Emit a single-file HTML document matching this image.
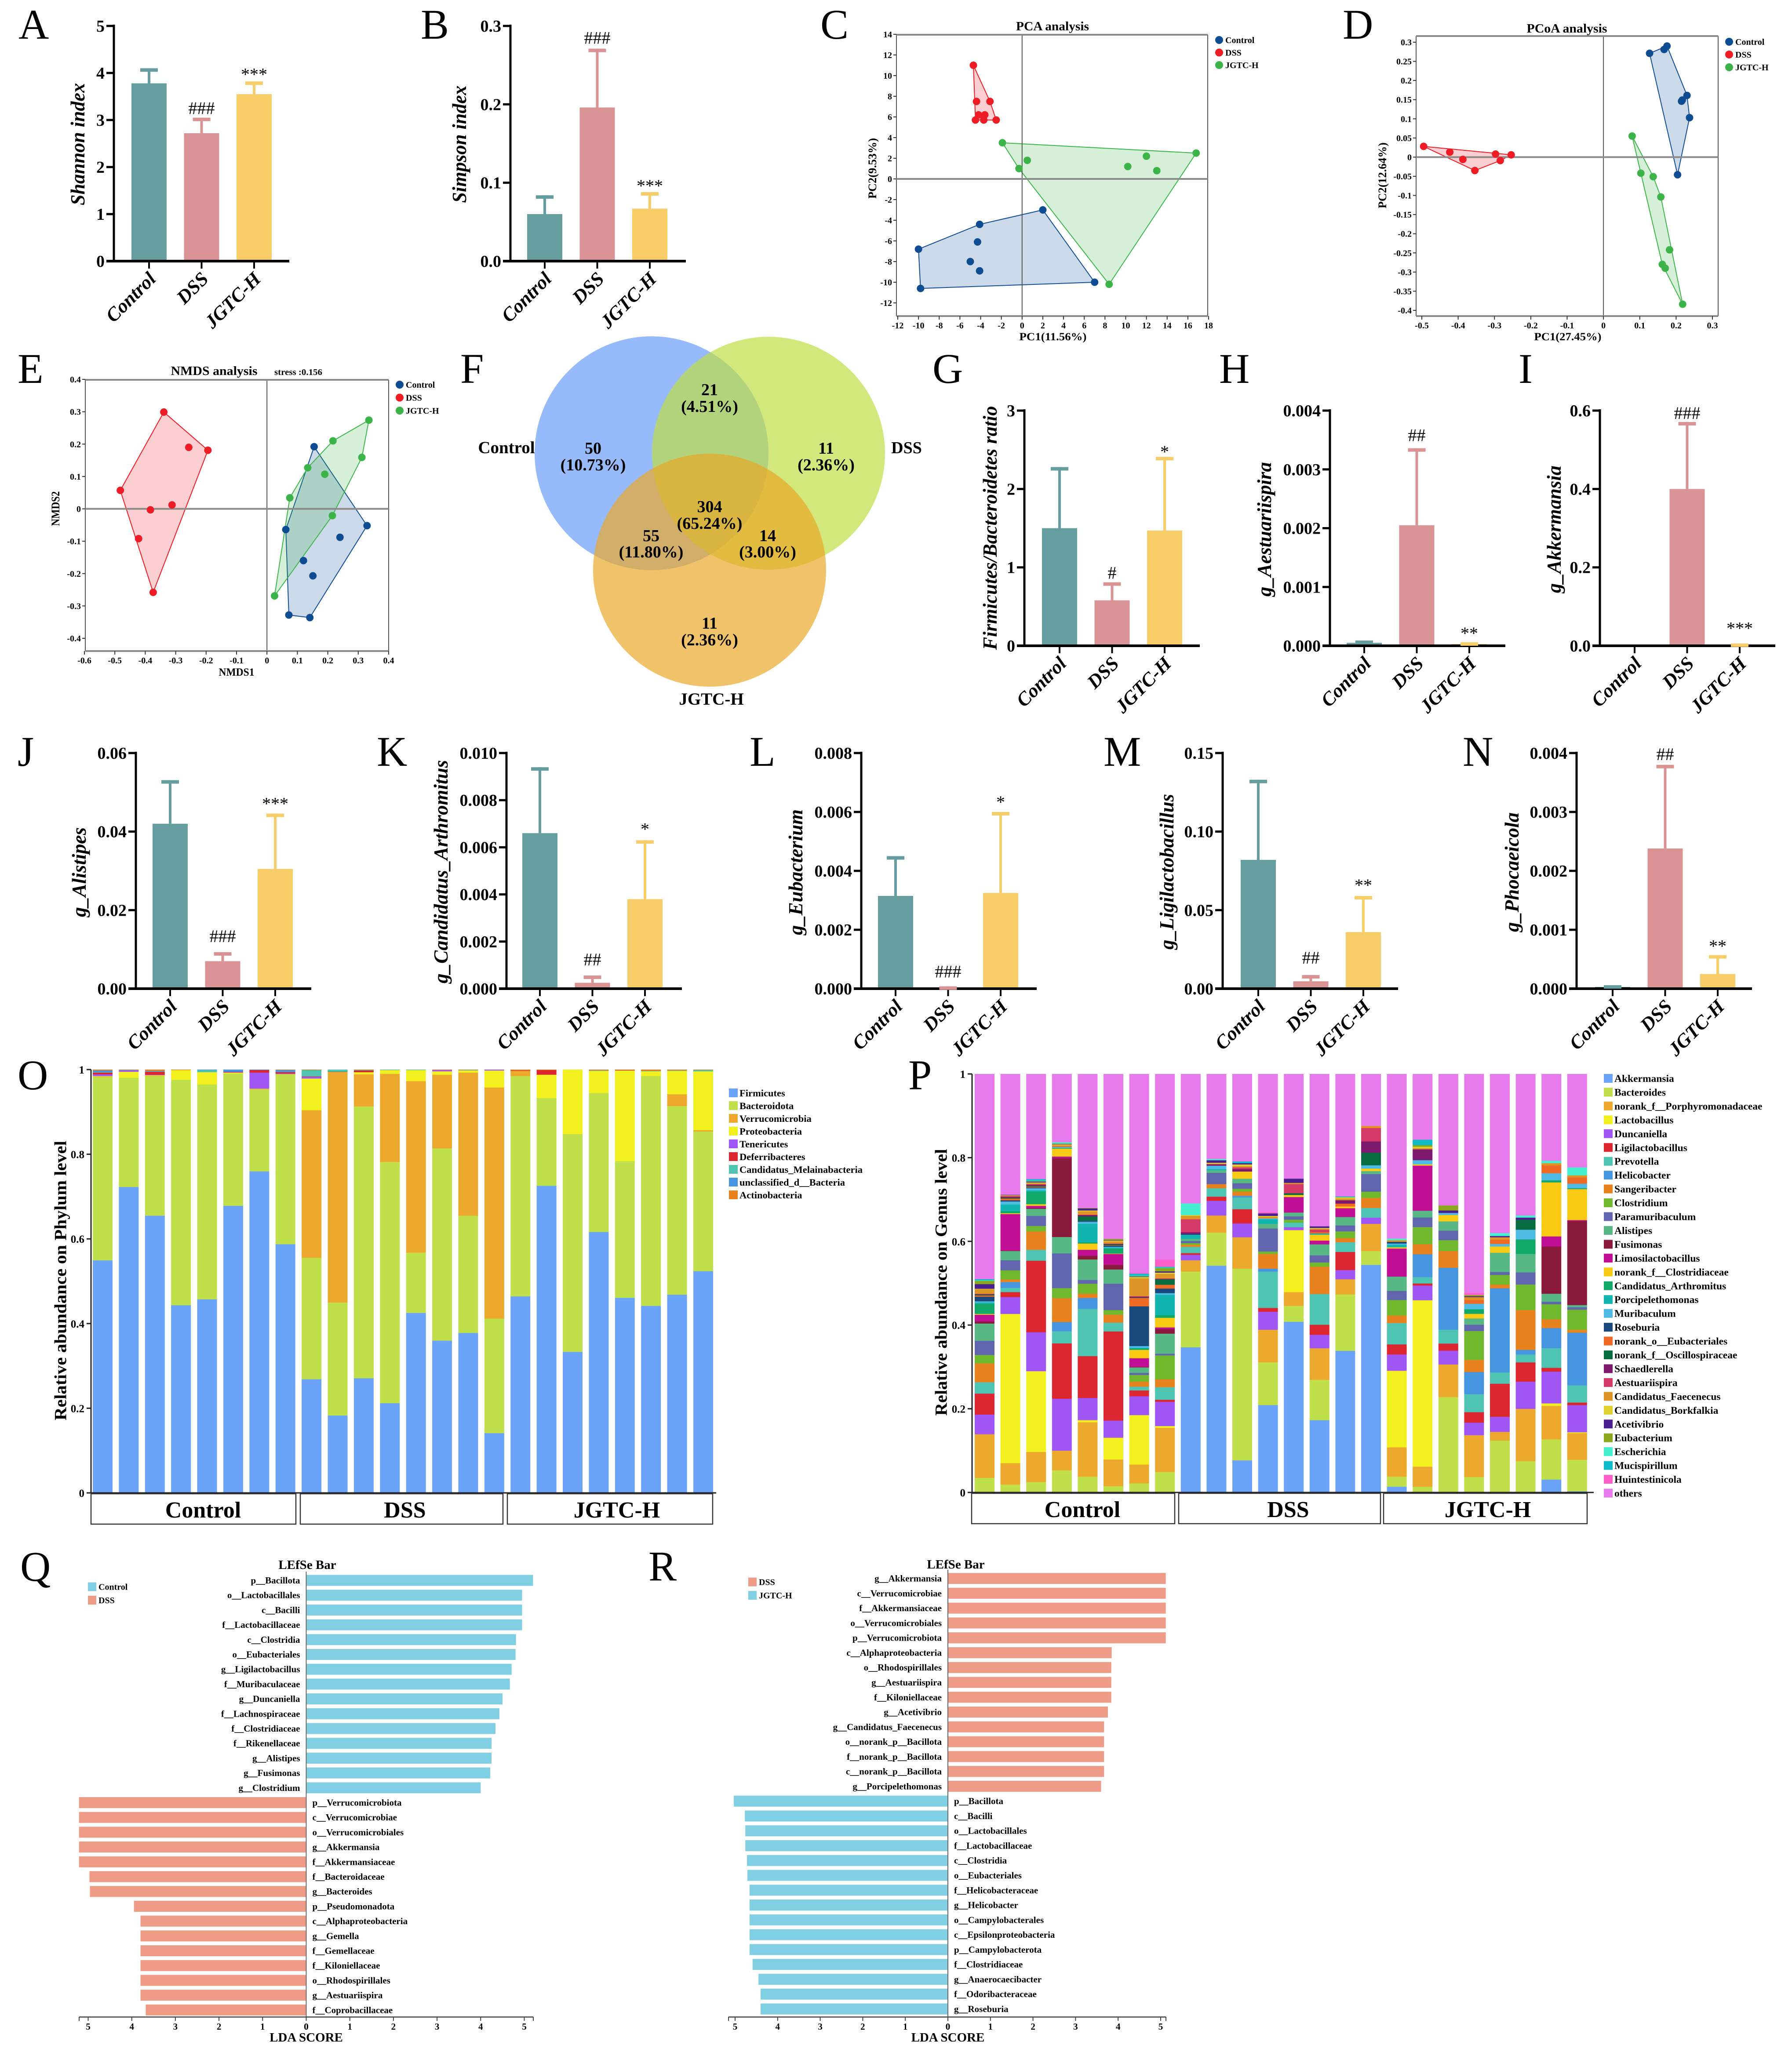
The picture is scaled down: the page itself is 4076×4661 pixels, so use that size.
<!DOCTYPE html>
<html lang="en">
<head>
<meta charset="utf-8">
<title>Gut microbiota analysis figure</title>
<style>
html,body{margin:0;padding:0;background:#fff;}
svg{display:block;}
text{font-family:"Liberation Serif","Times New Roman",serif;fill:#000;}
.b{font-weight:bold;}
.i{font-style:italic;}
</style>
</head>
<body>
<svg id="figure" xmlns="http://www.w3.org/2000/svg" width="4076" height="4661" viewBox="0 0 4076 4661">
<rect x="0" y="0" width="4076" height="4661" fill="#fff"/>
<g font-size="96">
<text x="42" y="88">A</text>
<text x="957" y="88">B</text>
<text x="1866" y="88">C</text>
<text x="3054" y="88">D</text>
<text x="40" y="871">E</text>
<text x="1047" y="871">F</text>
<text x="2121" y="871">G</text>
<text x="2773" y="871">H</text>
<text x="3454" y="871">I</text>
<text x="40" y="1742">J</text>
<text x="857" y="1742">K</text>
<text x="1705" y="1742">L</text>
<text x="2510" y="1742">M</text>
<text x="3327" y="1742">N</text>
<text x="40" y="2478">O</text>
<text x="2066" y="2478">P</text>
<text x="46" y="3596">Q</text>
<text x="1475" y="3595">R</text>
</g>

<g>
<circle cx="1482" cy="1031" r="266" fill="#5f97f7" fill-opacity="0.65"/>
<circle cx="1748" cy="1031" r="265" fill="#bede41" fill-opacity="0.69"/>
<circle cx="1614" cy="1297" r="265" fill="#e9a727" fill-opacity="0.69"/>
<g class="b" font-size="38" text-anchor="middle">
<text x="1349" y="1032">50</text>
<text x="1349" y="1070">(10.73%)</text>
<text x="1614" y="899">21</text>
<text x="1614" y="937">(4.51%)</text>
<text x="1879" y="1032">11</text>
<text x="1879" y="1070">(2.36%)</text>
<text x="1614" y="1165">304</text>
<text x="1614" y="1203">(65.24%)</text>
<text x="1481" y="1231">55</text>
<text x="1481" y="1268">(11.80%)</text>
<text x="1746" y="1231">14</text>
<text x="1746" y="1268">(3.00%)</text>
<text x="1614" y="1430">11</text>
<text x="1614" y="1468">(2.36%)</text>
<text x="1152" y="1031" font-size="39">Control</text>
<text x="2062" y="1031" font-size="38">DSS</text>
<text x="1618" y="1603" font-size="39">JGTC-H</text>
</g>
</g>

<g id="panel-a"></g>
<g id="panel-b"></g>
<g id="panel-c"></g>
<g id="panel-d"></g>
<g id="panel-e"></g>
<g id="panel-g"></g>
<g id="panel-h"></g>
<g id="panel-i"></g>
<g id="panel-j"></g>
<g id="panel-k"></g>
<g id="panel-l"></g>
<g id="panel-m"></g>
<g id="panel-n"></g>
<g id="panel-o"></g>
<g id="panel-p"></g>
<g id="panel-q"></g>
<g id="panel-r"></g>
</svg>

<script>
const groupNames = ['Control', 'DSS', 'JGTC-H'];
const groupBarColors = ['#669d9e', '#da9394', '#f7cd6a'];
const groupPointColors = ['#0f4d92', '#ee1c25', '#3cb44a'];

/* ---- bar panels ---- */
const shannonMeans = [3.78, 2.72, 3.55];
const shannonTops = [4.1, 3.05, 3.82];
const shannonSig = ['', '###', '***'];
const shannonTicks = ['0', '1', '2', '3', '4', '5'];

const simpsonMeans = [0.06, 0.196, 0.067];
const simpsonTops = [0.084, 0.271, 0.088];
const simpsonSig = ['', '###', '***'];
const simpsonTicks = ['0.0', '0.1', '0.2', '0.3'];

const fbRatioMeans = [1.5, 0.58, 1.47];
const fbRatioTops = [2.28, 0.81, 2.41];
const fbRatioSig = ['', '#', '*'];
const fbRatioTicks = ['0', '1', '2', '3'];

const aestuariispiraMeans = [0.00005, 0.00205, 0.00003];
const aestuariispiraTops = [0.00009, 0.00336, 0.00006];
const aestuariispiraSig = ['', '##', '**'];
const aestuariispiraTicks = ['0.000', '0.001', '0.002', '0.003', '0.004'];

const akkermansiaMeans = [0, 0.4, 0.003];
const akkermansiaTops = [0, 0.571, 0.006];
const akkermansiaSig = ['', '###', '***'];
const akkermansiaTicks = ['0.0', '0.2', '0.4', '0.6'];

const alistipesMeans = [0.042, 0.007, 0.0305];
const alistipesTops = [0.0531, 0.0093, 0.0446];
const alistipesSig = ['', '###', '***'];
const alistipesTicks = ['0.00', '0.02', '0.04', '0.06'];

const arthromitusMeans = [0.0066, 0.00025, 0.0038];
const arthromitusTops = [0.0094, 0.00056, 0.0063];
const arthromitusSig = ['', '##', '*'];
const arthromitusTicks = ['0.000', '0.002', '0.004', '0.006', '0.008', '0.010'];

const eubacteriumMeans = [0.00315, 0.00003, 0.00325];
const eubacteriumTops = [0.0045, 0.00008, 0.006];
const eubacteriumSig = ['', '###', '*'];
const eubacteriumTicks = ['0.000', '0.002', '0.004', '0.006', '0.008'];

const ligilactoMeans = [0.082, 0.0047, 0.036];
const ligilactoTops = [0.133, 0.0087, 0.059];
const ligilactoSig = ['', '##', '**'];
const ligilactoTicks = ['0.00', '0.05', '0.10', '0.15'];

const phocaeicolaMeans = [0.00003, 0.00238, 0.00025];
const phocaeicolaTops = [0.00006, 0.0038, 0.00057];
const phocaeicolaSig = ['', '##', '**'];
const phocaeicolaTicks = ['0.000', '0.001', '0.002', '0.003', '0.004'];

/* ---- ordination panels ---- */
const pcaControlX = [-10, -9.8, -4.1, -4.3, -5, -4.1, 2, 7];
const pcaControlY = [-6.8, -10.6, -4.4, -6.1, -8, -8.9, -3, -10];
const pcaDssX = [-4.7, -4.4, -3.1, -4.2, -3.6, -4.5, -3.7, -2.5];
const pcaDssY = [11, 7.5, 7.5, 6.2, 6.2, 5.7, 5.7, 5.7];
const pcaJgtcX = [-1.9, 0.5, -0.3, 10.2, 12, 13, 16.8, 8.4];
const pcaJgtcY = [3.5, 1.8, 1, 1.2, 2.2, 0.8, 2.5, -10.2];
const pcaXTicks = [-12, -10, -8, -6, -4, -2, 0, 2, 4, 6, 8, 10, 12, 14, 16, 18];
const pcaYTicks = [14, 12, 10, 8, 6, 4, 2, 0, -2, -4, -6, -8, -10, -12];

const pcoaControlX = [0.127, 0.167, 0.175, 0.23, 0.217, 0.215, 0.237, 0.204];
const pcoaControlY = [0.271, 0.281, 0.29, 0.161, 0.149, 0.146, 0.103, -0.046];
const pcoaDssX = [-0.495, -0.423, -0.387, -0.354, -0.297, -0.284, -0.254];
const pcoaDssY = [0.028, 0.013, -0.006, -0.035, 0.008, -0.009, 0.006];
const pcoaJgtcX = [0.079, 0.103, 0.137, 0.158, 0.182, 0.162, 0.17, 0.218];
const pcoaJgtcY = [0.055, -0.042, -0.051, -0.104, -0.242, -0.28, -0.29, -0.384];
const pcoaXTicks = [-0.5, -0.4, -0.3, -0.2, -0.1, 0, 0.1, 0.2, 0.3];
const pcoaYTicks = [0.3, 0.25, 0.2, 0.15, 0.1, 0.05, 0, -0.05, -0.1, -0.15, -0.2, -0.25, -0.3, -0.35, -0.4];

const nmdsControlX = [0.155, 0.329, 0.24, 0.062, 0.12, 0.151, 0.072, 0.141];
const nmdsControlY = [0.192, -0.052, -0.088, -0.064, -0.16, -0.207, -0.328, -0.336];
const nmdsDssX = [-0.339, -0.257, -0.194, -0.482, -0.312, -0.383, -0.422, -0.374];
const nmdsDssY = [0.299, 0.19, 0.181, 0.057, 0.012, -0.003, -0.092, -0.258];
const nmdsJgtcX = [0.335, 0.217, 0.312, 0.134, 0.19, 0.075, 0.215, 0.025];
const nmdsJgtcY = [0.274, 0.21, 0.159, 0.127, 0.107, 0.034, -0.021, -0.269];
const nmdsXTicks = [-0.6, -0.5, -0.4, -0.3, -0.2, -0.1, 0, 0.1, 0.2, 0.3, 0.4];
const nmdsYTicks = [0.4, 0.3, 0.2, 0.1, 0, -0.1, -0.2, -0.3, -0.4];

/* ---- phylum stacked bars (8 Control, 8 DSS, 8 JGTC-H) ---- */
const phylumNames = ['Firmicutes', 'Bacteroidota', 'Verrucomicrobia', 'Proteobacteria', 'Tenericutes', 'Deferribacteres', 'Candidatus_Melainabacteria', 'unclassified_d__Bacteria', 'Actinobacteria'];
const phylumColors = ['#6aa3f8', '#bfe04a', '#eda92e', '#f3f020', '#a055f5', '#dc2630', '#4fc4b3', '#4695e0', '#e8821e'];
const firmicutes = [.549,.722,.655,.443,.457,.677,.759,.587, .269,.183,.271,.212,.425,.36,.378,.141, .463,.725,.333,.616,.461,.442,.468,.524];
const bacteroidota = [.433,.258,.33,.532,.507,.312,.193,.401, .287,.267,.642,.569,.142,.454,.277,.27, .519,.207,.514,.328,.323,.543,.445,.33];
const verrucomicrobia = [.001,0,.001,0,0,0,.001,.001, .349,.543,.076,.208,.405,.174,.338,.545, .012,0,0,0,0,0,.028,.003];
const proteobacteria = [.001,.014,.001,.023,.029,.002,.001,0, .075,.001,.005,.009,.026,.008,.005,.04, 0,.055,.152,.052,.214,.011,.055,.139];
const tenericutes = [.004,.003,.001,0,0,.001,.038,.001, .004,0,0,0,0,.003,0,.002, 0,0,0,0,0,0,0,0];
const deferribacteres = [.004,0,.007,0,0,.001,.006,.003, .001,.001,.004,0,0,0,0,0, .001,.011,0,0,.001,0,0,0];
const melainabacteria = [.001,0,.001,0,.005,0,0,0, .015,.005,.001,.001,.001,0,.001,0, 0,0,0,.001,0,.001,.001,.003];
const unclassifiedBacteria = [.004,.001,.001,0,.001,.005,.001,.005, 0,0,0,0,0,0,0,0, 0,0,0,0,0,0,0,0];
const actinobacteria = [.002,.001,.003,.001,0,0,0,.001, .001,0,.001,0,0,.001,.001,0, .002,.001,0,.002,.001,.003,.002,.001];

/* ---- genus stacked bars ---- */
const genusNames = ['Akkermansia','Bacteroides','norank_f__Porphyromonadaceae','Lactobacillus','Duncaniella','Ligilactobacillus','Prevotella','Helicobacter','Sangeribacter','Clostridium','Paramuribaculum','Alistipes','Fusimonas','Limosilactobacillus','norank_f__Clostridiaceae','Candidatus_Arthromitus','Porcipelethomonas','Muribaculum','Roseburia','norank_o__Eubacteriales','norank_f__Oscillospiraceae','Schaedlerella','Aestuariispira','Candidatus_Faecenecus','Candidatus_Borkfalkia','Acetivibrio','Eubacterium','Escherichia','Mucispirillum','Huintestinicola','others'];
const genusColors = ['#6aa3f8','#bfe04a','#eda92e','#f3f020','#a055f5','#dc2630','#4fc4b3','#4695e0','#e8821e','#70b82e','#6065ad','#57b884','#8a1a3c','#c00f95','#f9ca14','#12a868','#12b5b0','#4fbae3','#1a4a7c','#ee6a25','#076b40','#7d1a6e','#d43a68','#dc9526','#e0d030','#4a2090','#8aa81e','#45efd0','#0ebcc8','#ff5fc8','#e87bec'];
const gAkkermansia = [0,0,0,0,0,0,0,0, .347,.542,.077,.209,.408,.172,.337,.544, .014,0,0,0,0,0,.031,.003];
const gBacteroides = [.035,.019,.025,.053,.038,.015,.022,.049, .181,.079,.458,.102,.038,.096,.134,.033, .024,.014,.228,.037,.124,.075,.096,.075];
const gPorphyromonadaceae = [.104,.051,.072,.047,.13,.064,.045,.106, .027,.041,.075,.078,.033,.075,.036,.065, .07,.048,.078,.1,.021,.125,.08,.064];
const gLactobacillus = [0,.356,.193,0,.005,.052,.118,.004, 0,0,0,0,.148,0,0,0, .183,.398,0,0,0,0,.006,.002];
const gDuncaniella = [.047,.04,.093,.124,.053,.041,.045,.058, .013,.035,.033,.043,.007,.032,.022,.015, .039,.035,.033,.03,.036,.065,.076,.065];
const gLigilactobacillus = [.05,.012,.171,.132,.1,.213,.014,.005, .004,.01,.034,.009,0,.024,.043,0, .024,.005,.017,.025,.079,.046,.009,.006];
const gPrevotella = [.027,.01,.026,.029,.113,.021,.009,.03, .015,.02,.028,.087,.011,.073,.023,.023, .051,.015,.033,.043,.027,.019,.047,.041];
const gHelicobacter = [0,.014,0,.022,.026,0,0,0, 0,0,.004,.007,0,0,0,0, 0,.055,.148,.053,.201,.011,.048,.126];
const gSangeribacter = [.045,.006,.044,.057,.01,.019,.012,.019, .005,.01,.01,.035,0,.065,.01,.024, .018,.024,.04,.029,.009,.095,.021,.007];
const gClostridium = [.02,.022,.013,.024,.024,.011,.016,.057, .004,0,.007,.006,.007,.01,.016,.015, .037,.041,.026,.069,.023,.061,.036,.048];
const gParamuribaculum = [.034,.024,.024,.083,.009,.063,.005,.004, .005,.027,.013,.055,.008,.017,.014,.042, .022,.023,.023,.015,.007,.029,.006,.006];
const gAlistipes = [.041,.022,.017,.039,.049,.034,.013,.048, .005,.006,.011,.011,.009,.026,.02,.007, .034,.016,.022,.015,.046,.044,.019,.005];
const gFusimonas = [.005,.001,.002,.188,.009,.011,.001,.011, 0,0,0,0,0,0,0,0, 0,0,0,0,0,0,.113,.201];
const gLimosilactobacillus = [.016,.087,.005,.004,.014,.026,.021,.004, 0,0,0,0,.037,.009,.021,0, .067,.108,0,0,0,0,.024,.002];
const gClostridiaceae = [.002,.002,.004,.019,.015,.001,.02,.023, 0,0,.017,0,.005,.014,.004,.006, .003,.003,.015,.011,.015,0,.129,.074];
const gArthromitus = [.024,.005,.03,.001,.003,.012,.003,.006, 0,0,0,0,0,0,0,0, 0,0,0,.011,0,.035,.005,.002];
const gPorcipelethomonas = [.003,.016,.003,.001,.044,.002,.002,.049, .01,.003,0,.011,0,.003,0,0, .006,0,0,0,0,0,0,0];
const gMuribaculum = [.003,.007,.005,.002,.005,.002,.004,.004, 0,.008,0,.002,0,0,0,.008, .003,.01,.005,.013,.006,.023,.017,.011];
const gRoseburia = [.011,.003,.002,0,.002,.003,.095,.011, .002,0,0,0,0,0,0,0, .004,0,0,0,0,0,0,0];
const gEubacteriales = [.003,.004,.002,.002,0,.001,.02,.009, 0,0,0,0,0,.003,.007,0, 0,0,0,.009,.01,0,.019,.015];
const gOscillospiraceae = [.002,.002,.002,0,.011,.002,.001,.013, 0,0,0,0,.004,0,0,.03, 0,0,0,0,0,.024,0,0];
const gSchaedlerella = [.001,.002,.002,0,.003,.001,.002,.001, .004,.003,.006,0,0,0,.008,.027, 0,.026,0,0,0,0,0,0];
const gAestuariispira = [.001,.002,.002,0,.001,.001,.001,.001, .031,.001,.004,0,.022,.006,0,.032, 0,0,0,0,0,0,0,0];
const gFaecenecus = [.011,.001,.002,.002,.008,.005,.043,.011, .008,.001,.003,.004,.003,.002,.004,.005, .004,.003,0,.007,.006,0,.005,.005];
const gBorkfalkia = [.001,.001,.002,.002,.002,.002,.003,.003, .002,.002,.004,.002,0,.002,.003,0, 0,.003,0,0,0,0,0,0];
const gAcetivibrio = [.011,.001,.002,.001,.005,.001,.001,.003, 0,.006,.003,.006,.01,.004,0,0, 0,0,.006,.002,.003,.005,0,0];
const gEubacterium = [.008,0,.001,.001,.001,.003,.001,.008, 0,0,0,0,0,0,0,0, 0,.004,.012,.003,0,0,0,0];
const gEscherichia = [.001,0,.001,.003,0,0,.001,.001, .028,.003,0,0,0,0,0,0, .004,0,0,0,.007,.005,.006,.019];
const gMucispirillum = [.003,0,.004,0,0,0,.005,.002, 0,0,.004,0,0,0,.002,0, 0,.013,0,0,0,0,0,0];
const gHuintestinicola = [0,0,0,0,0,0,.002,.017, 0,0,0,.003,0,0,0,0, 0,0,0,.005,0,0,0,0];
const gOthers = [.489,.288,.251,.163,.32,.394,.475,.444, .309,.203,.209,.33,.25,.362,.291,.124, .393,.157,.314,.523,.38,.338,.207,.223];
const stackTickLabels = ['0', '0.2', '0.4', '0.6', '0.8', '1'];
const stackTickValues = [0, 0.2, 0.4, 0.6, 0.8, 1];

/* ---- LEfSe ---- */
const lefseTickValues = [0, 1, 2, 3, 4, 5];
const qControlTaxa = ['p__Bacillota','o__Lactobacillales','c__Bacilli','f__Lactobacillaceae','c__Clostridia','o__Eubacteriales','g__Ligilactobacillus','f__Muribaculaceae','g__Duncaniella','f__Lachnospiraceae','f__Clostridiaceae','f__Rikenellaceae','g__Alistipes','g__Fusimonas','g__Clostridium'];
const qControlScores = [5.2,4.95,4.95,4.95,4.81,4.8,4.71,4.67,4.5,4.43,4.34,4.25,4.25,4.22,4.0];
const qDssTaxa = ['p__Verrucomicrobiota','c__Verrucomicrobiae','o__Verrucomicrobiales','g__Akkermansia','f__Akkermansiaceae','f__Bacteroidaceae','g__Bacteroides','p__Pseudomonadota','c__Alphaproteobacteria','g__Gemella','f__Gemellaceae','f__Kiloniellaceae','o__Rhodospirillales','g__Aestuariispira','f__Coprobacillaceae'];
const qDssScores = [5.21,5.21,5.21,5.21,5.21,4.97,4.96,3.95,3.8,3.8,3.8,3.8,3.8,3.8,3.68];
const rDssTaxa = ['g__Akkermansia','c__Verrucomicrobiae','f__Akkermansiaceae','o__Verrucomicrobiales','p__Verrucomicrobiota','c__Alphaproteobacteria','o__Rhodospirillales','g__Aestuariispira','f__Kiloniellaceae','g__Acetivibrio','g__Candidatus_Faecenecus','o__norank_p__Bacillota','f__norank_p__Bacillota','c__norank_p__Bacillota','g__Porcipelethomonas'];
const rDssScores = [5.12,5.12,5.12,5.12,5.12,3.85,3.84,3.84,3.84,3.76,3.67,3.67,3.67,3.67,3.6];
const rJgtcTaxa = ['p__Bacillota','c__Bacilli','o__Lactobacillales','f__Lactobacillaceae','c__Clostridia','o__Eubacteriales','f__Helicobacteraceae','g__Helicobacter','o__Campylobacterales','c__Epsilonproteobacteria','p__Campylobacterota','f__Clostridiaceae','g__Anaerocaecibacter','f__Odoribacteraceae','g__Roseburia'];
const rJgtcScores = [5.03,4.77,4.76,4.76,4.72,4.71,4.66,4.66,4.66,4.66,4.66,4.59,4.45,4.4,4.4];

const NS = 'http://www.w3.org/2000/svg';
function mk(parent, tag, attrs, content) {
  const el = document.createElementNS(NS, tag);
  for (const k in attrs) el.setAttribute(k, attrs[k]);
  if (content !== undefined) el.textContent = content;
  parent.appendChild(el);
  return el;
}
function slug(s) { return String(s).toLowerCase().replace(/[^a-z0-9]+/g, '-').replace(/^-|-$/g, ''); }
function linear(d0, d1, r0, r1) { return v => r0 + (v - d0) * (r1 - r0) / (d1 - d0); }
function hull(xs, ys) {
  const pts = xs.map((x, i) => [x, ys[i]]).sort((a, b) => a[0] - b[0] || a[1] - b[1]);
  const cross = (o, a, b) => (a[0]-o[0])*(b[1]-o[1]) - (a[1]-o[1])*(b[0]-o[0]);
  const lo = [], up = [];
  pts.forEach(p => { while (lo.length > 1 && cross(lo[lo.length-2], lo[lo.length-1], p) <= 0) lo.pop(); lo.push(p); });
  pts.slice().reverse().forEach(p => { while (up.length > 1 && cross(up[up.length-2], up[up.length-1], p) <= 0) up.pop(); up.push(p); });
  return lo.slice(0, -1).concat(up.slice(0, -1));
}
function rotatedTitle(g, str, cx, cy, len, size, cls) {
  const bx = cx + size * 0.3;
  return mk(g, 'text', {x: bx, y: cy, 'text-anchor': 'middle', 'font-size': size, 'class': cls, transform: 'rotate(-90 ' + bx + ' ' + cy + ')', textLength: len, lengthAdjust: 'spacingAndGlyphs'}, str);
}

function drawBarPanel(id, L, title, means, tops, sig, ticks) {
  const g = document.getElementById(id);
  const ymax = parseFloat(ticks[ticks.length - 1]);
  const y = linear(0, ymax, L.y0, L.yTop);
  const cx = i => L.axisX + L.first + 119.5 * i;

  const yAxis = mk(g, 'rect', {x: L.axisX - 2.5, y: L.yTop - 3, width: 5, height: L.y0 - L.yTop + 3, fill: '#000'});
  
  
  const xAxis = mk(g, 'rect', {x: L.axisX - 17, y: L.y0 - 3, width: 416, height: 6, fill: '#000'});
  
  

  ticks.forEach(t => {
    const v = parseFloat(t);
    const tick = mk(g, 'rect', {x: L.axisX - 17, y: y(v) - 2.5, width: 17, height: 5, fill: '#000'});
    
    
    const lab = mk(g, 'text', {x: L.axisX - 21, y: y(v) + 13, 'text-anchor': 'end', 'font-size': 38, 'class': 'b'}, t);
    
    
  });

  groupNames.forEach((name, i) => {
    const x = cx(i);
    const tick = mk(g, 'rect', {x: x - 2, y: L.y0, width: 4, height: 17, fill: '#000'});
    
    
    const ax = x + 18, ay = L.y0 + 43;
    const lab = mk(g, 'text', {x: ax, y: ay, 'text-anchor': 'end', 'font-size': 44, 'class': 'b i', transform: 'rotate(-45 ' + ax + ' ' + ay + ')'}, name);
    
    
    if (tops[i] > 0) {
      const yTop = y(tops[i]);
      const line = mk(g, 'rect', {x: x - 3, y: yTop, width: 6, height: Math.max(0, y(means[i]) - yTop), fill: groupBarColors[i]});
      
      
      const cap = mk(g, 'rect', {x: x - 20, y: yTop, width: 40, height: 8, fill: groupBarColors[i]});
      
      
    }
    if (means[i] > 0) {
      const h = Math.max(0, L.y0 - 3 - y(means[i]));
      const bar = mk(g, 'rect', {x: x - 40, y: y(means[i]), width: 80, height: h, fill: groupBarColors[i]});
      
      
    }
    if (sig[i]) {
      const s = mk(g, 'text', {x: x, y: y(tops[i]) - L.sigGap[i], 'text-anchor': 'middle', 'font-size': 40}, sig[i]);
      
      
    }
  });

  const t = rotatedTitle(g, title, L.titleX, L.titleY, L.titleLen, 46, 'b i');
  
  
}

drawBarPanel('panel-a', {axisX:259, y0:594, yTop:59, first:80, sigGap:[0,8,3], titleX:178, titleY:328, titleLen:278}, 'Shannon index', shannonMeans, shannonTops, shannonSig, shannonTicks);
drawBarPanel('panel-b', {axisX:1161, y0:594, yTop:59, first:78, sigGap:[0,11,1], titleX:1046, titleY:328, titleLen:267}, 'Simpson index', simpsonMeans, simpsonTops, simpsonSig, simpsonTicks);
drawBarPanel('panel-g', {axisX:2330, y0:1469, yTop:934, first:80, sigGap:[0,8,-2], titleX:2253, titleY:1201, titleLen:555}, 'Firmicutes/Bacteroidetes ratio', fbRatioMeans, fbRatioTops, fbRatioSig, fbRatioTicks);
drawBarPanel('panel-h', {axisX:3025, y0:1469, yTop:934, first:78, sigGap:[0,16,7], titleX:2877, titleY:1204, titleLen:306}, 'g_Aestuariispira', aestuariispiraMeans, aestuariispiraTops, aestuariispiraSig, aestuariispiraTicks);
drawBarPanel('panel-i', {axisX:3639, y0:1469, yTop:934, first:79, sigGap:[0,7,21], titleX:3536, titleY:1204, titleLen:290}, 'g_Akkermansia', akkermansiaMeans, akkermansiaTops, akkermansiaSig, akkermansiaTicks);
drawBarPanel('panel-j', {axisX:309, y0:2249, yTop:1713, first:78, sigGap:[0,23,9], titleX:181, titleY:1984, titleLen:204}, 'g_Alistipes', alistipesMeans, alistipesTops, alistipesSig, alistipesTicks);
drawBarPanel('panel-k', {axisX:1152, y0:2249, yTop:1713, first:76, sigGap:[0,23,12], titleX:1004, titleY:1983, titleLen:508}, 'g_Candidatus_Arthromitus', arthromitusMeans, arthromitusTops, arthromitusSig, arthromitusTicks);
drawBarPanel('panel-l', {axisX:1959, y0:2249, yTop:1713, first:78, sigGap:[0,20,9], titleX:1811, titleY:1984, titleLen:286}, 'g_Eubacterium', eubacteriumMeans, eubacteriumTops, eubacteriumSig, eubacteriumTicks);
drawBarPanel('panel-m', {axisX:2781, y0:2249, yTop:1713, first:81, sigGap:[0,26,11], titleX:2655, titleY:1983, titleLen:354}, 'g_Ligilactobacillus', ligilactoMeans, ligilactoTops, ligilactoSig, ligilactoTicks);
drawBarPanel('panel-n', {axisX:3586, y0:2249, yTop:1713, first:82, sigGap:[0,11,7], titleX:3440, titleY:1984, titleLen:272}, 'g_Phocaeicola', phocaeicolaMeans, phocaeicolaTops, phocaeicolaSig, phocaeicolaTicks);

function drawScatter(id, L, T, seriesX, seriesY, xTicks, yTicks) {
  const g = document.getElementById(id);
  const x = linear(L.xd[0], L.xd[1], L.xr[0], L.xr[1]);
  const y = linear(L.yd[0], L.yd[1], L.yr[0], L.yr[1]);

  const leftEdge = mk(g, 'rect', {x: L.l - 1, y: L.t, width: 2, height: L.b - L.t, fill: '#555'});
  
  
  const rightEdge = mk(g, 'rect', {x: L.r - 1, y: L.t, width: 2, height: L.b - L.t, fill: '#555'});
  
  

  seriesX.forEach((xs, s) => {
    const pts = hull(xs, seriesY[s]).map(p => x(p[0]) + ',' + y(p[1])).join(' ');
    const poly = mk(g, 'polygon', {points: pts, fill: groupPointColors[s], 'fill-opacity': 0.21, stroke: groupPointColors[s], 'stroke-width': 2, 'stroke-linejoin': 'round'});
    
    
  });

  const zeroV = mk(g, 'rect', {x: x(0) - 1, y: L.t, width: 2, height: L.b - L.t, fill: '#555'});
  
  
  const zeroH = mk(g, 'rect', {x: L.l, y: y(0) - 2, width: L.r - L.l, height: 4, fill: '#8a8a8a'});
  
  
  const topEdge = mk(g, 'rect', {x: L.l, y: L.t - 2, width: L.r - L.l, height: 4, fill: '#8a8a8a'});
  
  
  const bottomEdge = mk(g, 'rect', {x: L.l, y: L.b - 2, width: L.r - L.l, height: 4, fill: '#8a8a8a'});
  
  

  xTicks.forEach(v => {
    const tick = mk(g, 'rect', {x: x(v) - 1, y: L.b, width: 2, height: 8, fill: '#333'});
    
    
    const lab = mk(g, 'text', {x: x(v), y: L.b + L.tickDy, 'text-anchor': 'middle', 'font-size': 20, 'class': 'b'}, String(v));
    
    
  });
  yTicks.forEach(v => {
    const tick = mk(g, 'rect', {x: L.l - 7, y: y(v) - 1, width: 7, height: 2, fill: '#333'});
    
    
    const lab = mk(g, 'text', {x: L.l - 10, y: y(v) + 7, 'text-anchor': 'end', 'font-size': 20, 'class': 'b'}, String(v));
    
    
  });

  seriesX.forEach((xs, s) => {
    xs.forEach((v, i) => {
      const pt = mk(g, 'circle', {cx: x(v), cy: y(seriesY[s][i]), r: 8.5, fill: groupPointColors[s]});
      
      
    });
    const marker = mk(g, 'circle', {cx: L.legX, cy: L.legY + L.legStep * s, r: 9, fill: groupPointColors[s]});
    
    
    const legText = mk(g, 'text', {x: L.legX + 14, y: L.legY + L.legStep * s + 7, 'font-size': 20, 'class': 'b'}, groupNames[s]);
    
    
  });

  const title = mk(g, 'text', {x: T.titleX, y: T.titleY, 'text-anchor': 'middle', 'font-size': 28, 'class': 'b', textLength: T.titleLen, lengthAdjust: 'spacingAndGlyphs'}, T.title);
  
  
  const xTitle = mk(g, 'text', {x: T.xX, y: T.xY, 'text-anchor': 'middle', 'font-size': 25, 'class': 'b', textLength: T.xLen, lengthAdjust: 'spacingAndGlyphs'}, T.xLabel);
  
  
  const yTitle = rotatedTitle(g, T.yLabel, T.yX, T.yY, T.yLen, 26, 'b');
  
  
}

drawScatter('panel-c',
  {l:2039, r:2747, t:79, b:719, xd:[-12,18], xr:[2042,2749], yd:[14,-12], yr:[78,689], tickDy:28, legX:2773, legY:91, legStep:28.5},
  {title:'PCA analysis', titleX:2394, titleY:69, titleLen:166, xLabel:'PC1(11.56%)', xX:2395, xY:774, xLen:153, yLabel:'PC2(9.53%)', yX:1985, yY:383, yLen:138},
  [pcaControlX, pcaDssX, pcaJgtcX], [pcaControlY, pcaDssY, pcaJgtcY], pcaXTicks, pcaYTicks);
drawScatter('panel-d',
  {l:3221, r:3908, t:82, b:719, xd:[-0.5,0.3], xr:[3234,3895], yd:[0.3,-0.4], yr:[96,706], tickDy:28, legX:3933, legY:95, legStep:29},
  {title:'PCoA analysis', titleX:3564, titleY:74, titleLen:183, xLabel:'PC1(27.45%)', xX:3566, xY:774, xLen:153, yLabel:'PC2(12.64%)', yX:3145, yY:399, yLen:150},
  [pcoaControlX, pcoaDssX, pcoaJgtcX], [pcoaControlY, pcoaDssY, pcoaJgtcY], pcoaXTicks, pcoaYTicks);
drawScatter('panel-e',
  {l:194, r:884, t:864, b:1481, xd:[-0.6,0.4], xr:[192,884], yd:[0.4,-0.4], yr:[863,1452], tickDy:28, legX:909, legY:875, legStep:29.5},
  {title:'NMDS analysis', titleX:487, titleY:853, titleLen:197, xLabel:'NMDS1', xX:538, xY:1537, xLen:81, yLabel:'NMDS2', yX:127, yY:1157, yLen:79},
  [nmdsControlX, nmdsDssX, nmdsJgtcX], [nmdsControlY, nmdsDssY, nmdsJgtcY], nmdsXTicks, nmdsYTicks);
const stressLabel = mk(document.getElementById('panel-e'), 'text', {x: 624, y: 853, 'font-size': 20, 'class': 'b', textLength: 109, lengthAdjust: 'spacingAndGlyphs'}, 'stress :0.156');



function drawStack(id, L, title, names, colors, series) {
  const g = document.getElementById(id);
  const n = series[0].length;
  const y = linear(0, 1, L.y0, L.y1);
  for (let i = 0; i < n; i++) {
    const total = series.reduce((acc, s) => acc + s[i], 0);
    let cum = 0;
    series.forEach((s, k) => {
      const v = s[i];
      if (v > 0) {
        const yTop = y((cum + v) / total);
        const yBot = y(cum / total);
        const seg = mk(g, 'rect', {x: L.first + L.step * i, y: yTop, width: 45, height: yBot - yTop + 0.3, fill: colors[k]});
        
        
      }
      cum += v;
    });
    const xt = mk(g, 'rect', {x: L.first + L.step * i + 21.5, y: L.y0, width: 2, height: 4, fill: '#555'});
    
    
  }
  const yAxis = mk(g, 'rect', {x: L.axisX - 1.5, y: L.y1, width: 3, height: L.y0 - L.y1, fill: '#222'});
  
  
  const xAxis = mk(g, 'rect', {x: L.axisX, y: L.y0 - 1.5, width: L.axisEnd - L.axisX, height: 3, fill: '#222'});
  
  

  stackTickValues.forEach((v, i) => {
    const tick = mk(g, 'rect', {x: L.axisX - 10, y: y(v) - 1.5, width: 10, height: 3, fill: '#222'});
    
    
    const lab = mk(g, 'text', {x: L.axisX - 15, y: y(v) + 9, 'text-anchor': 'end', 'font-size': 25, 'class': 'b'}, stackTickLabels[i]);
    
    
  });

  groupNames.forEach((name, i) => {
    const box = mk(g, 'rect', {x: L.boxes[i][0], y: L.y0 + 2, width: L.boxes[i][1] - L.boxes[i][0], height: 69, fill: '#fff', stroke: '#333', 'stroke-width': 2.5});
    
    
    const lab = mk(g, 'text', {x: L.boxLabels[i], y: L.y0 + 56, 'text-anchor': 'middle', 'font-size': 52, 'class': 'b'}, name);
    
    
  });

  names.forEach((name, k) => {
    const yy = L.legY + L.legStep * k;
    const sw = mk(g, 'rect', {x: L.legX, y: yy - 10, width: 20, height: 20, fill: colors[k]});
    
    
    const lab = mk(g, 'text', {x: L.legX + 24, y: yy + 8, 'font-size': L.legFont, 'class': 'b'}, name);
    
    
  });

  const t = rotatedTitle(g, title, L.titleX, L.titleY, L.titleLen, 39, 'b');
  
  
}

drawStack('panel-o',
  {first:211, step:59.39, y0:3396, y1:2433, axisX:207, axisEnd:1629, boxes:[[207,673],[683,1144],[1154,1621]], boxLabels:[462,921,1403], legX:1658, legY:2486, legStep:29, legFont:22.5, titleX:139, titleY:2913, titleLen:636},
  'Relative abundance on Phylum level', phylumNames, phylumColors,
  [firmicutes, bacteroidota, verrucomicrobia, proteobacteria, tenericutes, deferribacteres, melainabacteria, unclassifiedBacteria, actinobacteria]);
drawStack('panel-p',
  {first:2217, step:58.6, y0:3395, y1:2443, axisX:2211, axisEnd:3625, boxes:[[2210,2672],[2681,3140],[3147,3610]], boxLabels:[2462,2930,3384], legX:3648, legY:2453, legStep:31.45, legFont:23.5, titleX:2142, titleY:2917, titleLen:607},
  'Relative abundance on Genus level', genusNames, genusColors,
  [gAkkermansia, gBacteroides, gPorphyromonadaceae, gLactobacillus, gDuncaniella, gLigilactobacillus, gPrevotella, gHelicobacter, gSangeribacter, gClostridium, gParamuribaculum, gAlistipes, gFusimonas, gLimosilactobacillus, gClostridiaceae, gArthromitus, gPorcipelethomonas, gMuribaculum, gRoseburia, gEubacteriales, gOscillospiraceae, gSchaedlerella, gAestuariispira, gFaecenecus, gBorkfalkia, gAcetivibrio, gEubacterium, gEscherichia, gMucispirillum, gHuintestinicola, gOthers]);

function drawLefse(id, L, posName, posColor, posTaxa, posScores, negName, negColor, negTaxa, negScores) {
  const g = document.getElementById(id);
  const x = v => L.cx + v * L.unit;
  const rowY = i => L.row0 + L.rowStep * i;

  posTaxa.forEach((name, i) => {
    const bar = mk(g, 'rect', {x: L.cx, y: rowY(i) - 12.5, width: x(posScores[i]) - L.cx, height: 25, fill: posColor});
    
    
    const lab = mk(g, 'text', {x: L.cx - 14, y: rowY(i) + 7, 'text-anchor': 'end', 'font-size': 21, 'class': 'b'}, name);
    
    
  });
  negTaxa.forEach((name, i) => {
    const r = i + posTaxa.length;
    const bx = x(-negScores[i]);
    const bar = mk(g, 'rect', {x: bx, y: rowY(r) - 12.5, width: L.cx - bx, height: 25, fill: negColor});
    
    
    const lab = mk(g, 'text', {x: L.cx + 14, y: rowY(r) + 7, 'font-size': 21, 'class': 'b'}, name);
    
    
  });

  const centre = mk(g, 'rect', {x: L.cx - 1, y: L.row0 - 20, width: 2, height: L.axisY - L.row0 + 20, fill: '#666'});
  
  
  const axis = mk(g, 'rect', {x: L.axisL, y: L.axisY - 1, width: L.axisR - L.axisL, height: 2.5, fill: '#444'});
  
  
  [L.axisL, L.axisR].forEach(px => {
    const end = mk(g, 'rect', {x: px - 1, y: L.axisY, width: 2, height: 9, fill: '#444'});
    
    
  });
  lefseTickValues.forEach(v => {
    [x(v), x(-v)].forEach(px => {
      const tick = mk(g, 'rect', {x: px - 1, y: L.axisY, width: 2, height: 9, fill: '#444'});
      
      
      const lab = mk(g, 'text', {x: px, y: L.axisY + 29, 'text-anchor': 'middle', 'font-size': 21, 'class': 'b'}, String(v));
      
      
    });
  });

  const title = mk(g, 'text', {x: L.titleX, y: L.titleY, 'text-anchor': 'middle', 'font-size': 29, 'class': 'b'}, 'LEfSe Bar');
  
  
  const xTitle = mk(g, 'text', {x: L.cx, y: L.axisY + 56, 'text-anchor': 'middle', 'font-size': 29, 'class': 'b'}, 'LDA SCORE');
  
  

  [[posName, posColor], [negName, negColor]].forEach((entry, i) => {
    const yy = L.legY + 30.5 * i;
    const sw = mk(g, 'rect', {x: L.legX, y: yy - 10, width: 19, height: 20, fill: entry[1]});
    
    
    const lab = mk(g, 'text', {x: L.legX + 24, y: yy + 7, 'font-size': 20, 'class': 'b'}, entry[0]);
    
    
  });
}

drawLefse('panel-q',
  {cx:696.5, unit:99.2, row0:3595, rowStep:33.7, axisY:4588, axisL:180, axisR:1213, titleX:699, titleY:3569, legX:200, legY:3609.5},
  'Control', '#81cfe2', qControlTaxa, qControlScores, 'DSS', '#ee9b87', qDssTaxa, qDssScores);
drawLefse('panel-r',
  {cx:2156, unit:96.8, row0:3590.6, rowStep:33.77, axisY:4588, axisL:1657, axisR:2652, titleX:2174, titleY:3568, legX:1702, legY:3598.6},
  'DSS', '#ee9b87', rDssTaxa, rDssScores, 'JGTC-H', '#81cfe2', rJgtcTaxa, rJgtcScores);
</script>
</body>
</html>
